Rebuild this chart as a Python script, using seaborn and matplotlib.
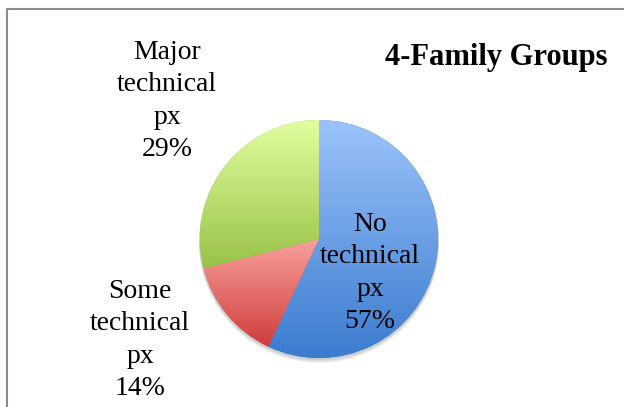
import numpy as np
import matplotlib
matplotlib.use("Agg")
import matplotlib.pyplot as plt
import seaborn as sns
from matplotlib.colors import LinearSegmentedColormap

categories = ["No technical px", "Some technical px", "Major technical px"]
shares = [57, 14, 29]
label_text = ["No\ntechnical\npx\n57%", "Some\ntechnical\npx\n14%", "Major\ntechnical\npx\n29%"]
# gradient colours (top, bottom) for each slice
grad_top = ["#9cc3fb", "#f9a09c", "#e0fe9f"]
grad_bottom = ["#3b7ccf", "#cf3d3b", "#98c247"]

sns.set_theme(style="white")
plt.rcParams['font.family'] = ['Liberation Serif', 'DejaVu Serif']

W, H = 624, 407
fig = plt.figure(figsize=(W / 100, H / 100), dpi=100)
ax = fig.add_axes([0, 0, 1, 1])

cx, cy, r = 319, H - 239, 119

# soft shadow under the pie
for i in range(4):
    sh = plt.Circle((cx, cy - 1 - i), r + 1, color="black", alpha=0.05, lw=0, zorder=1)
    ax.add_patch(sh)

wedges, _ = ax.pie(shares, startangle=90, counterclock=False, center=(cx, cy),
                   radius=r, colors=grad_bottom, frame=True,
                   wedgeprops=dict(linewidth=0, zorder=2))
ax.set_xlim(0, W)
ax.set_ylim(0, H)
ax.axis('off')

# vertical gradient fill clipped to each wedge
for w, c0, c1 in zip(wedges, grad_top, grad_bottom):
    ext = w.get_path().get_extents()
    cmap = LinearSegmentedColormap.from_list("g", [c1, c0])
    grad = np.linspace(0, 1, 256).reshape(-1, 1)
    im = ax.imshow(grad, cmap=cmap, origin="lower", aspect="auto",
                   extent=[ext.x0, ext.x1, ext.y0, ext.y1], zorder=3)
    im.set_clip_path(w)

# labels
label_pos = [(370, H - 273), (140, H - 340), (167, H - 101)]
for txt, (lx, ly) in zip(label_text, label_pos):
    ax.text(lx, ly, txt, ha="center", va="center", fontsize=20,
            linespacing=1.38, color="black", zorder=5)

ax.text(496, H - 57, "4-Family Groups", ha="center", va="center",
        fontsize=22, fontweight="bold", color="black", zorder=5)

# chart border (left and top edges visible)
ax.plot([6.5, 6.5, W + 5], [-5, H - 8.5, H - 8.5], color="#8c8c8c", lw=1.5,
        zorder=6, clip_on=False)

fig.savefig("out.png", dpi=100)
